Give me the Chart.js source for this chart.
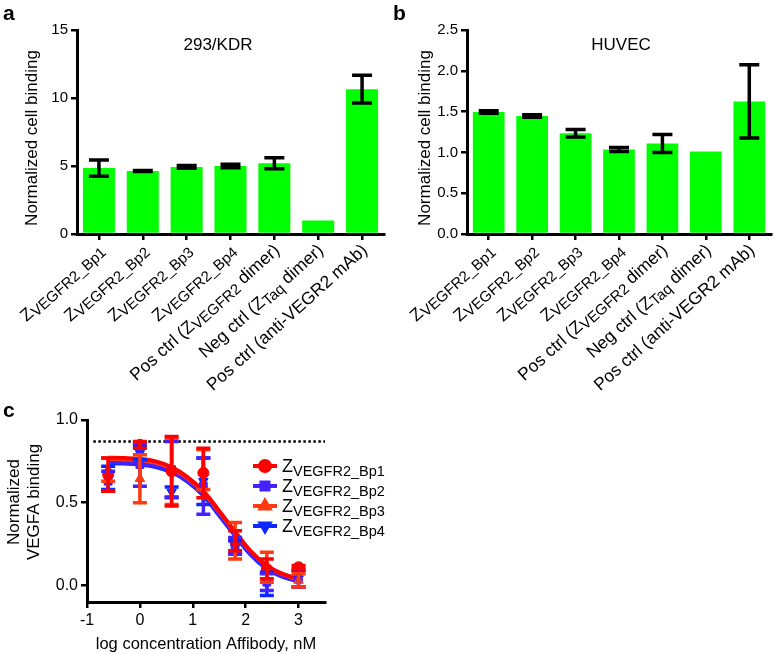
<!DOCTYPE html>
<html>
<head>
<meta charset="utf-8">
<script src="https://cdn.jsdelivr.net/npm/chart.js@4.4.1/dist/chart.umd.min.js"></script>
<style>
  body { margin: 0; background: #fff; }
  #wrap { position: relative; width: 777px; height: 654px; overflow: hidden; }
  canvas { position: absolute; }
</style>
</head>
<body>
<div id="wrap">
  <canvas id="chartA" width="390" height="400" style="left:0;top:0;width:390px;height:400px"></canvas>
  <canvas id="chartB" width="387" height="400" style="left:390px;top:0;width:387px;height:400px"></canvas>
  <canvas id="chartC" width="420" height="254" style="left:0;top:400px;width:420px;height:254px"></canvas>
</div>
<script>
// --- Data ---
// text inside [ ] is a subscript
const categories = [
  'Z[VEGFR2_Bp1]', 'Z[VEGFR2_Bp2]', 'Z[VEGFR2_Bp3]', 'Z[VEGFR2_Bp4]',
  'Pos ctrl (Z[VEGFR2] dimer)', 'Neg ctrl (Z[Taq] dimer)', 'Pos ctrl (anti-VEGR2 mAb)'
];
const kdrValues = [4.85, 4.63, 4.93, 5.0, 5.2, 1.0, 10.65];
const kdrErrors = [0.6, 0.03, 0.1, 0.12, 0.4, 0, 1.02];
const huvecValues = [1.495, 1.445, 1.235, 1.035, 1.11, 1.01, 1.625];
const huvecErrors = [0.015, 0.015, 0.045, 0.025, 0.11, 0, 0.45];
const kdrTicks = [0, 5, 10, 15];
const huvecTicks = [0, 0.5, 1.0, 1.5, 2.0, 2.5];

const logConc = [-0.6, 0, 0.6, 1.2, 1.8, 2.4, 3.0];
const bp1Mean = [0.67, 0.85, 0.69, 0.68, 0.27, 0.10, 0.11];
const bp1Err  = [0.10, 0.02, 0.21, 0.15, 0.06, 0.06, 0.01];
const bp2Mean = [0.63, 0.73, 0.70, 0.60, 0.24, 0.02, 0.04];
const bp2Err  = [0.06, 0.13, 0.17, 0.17, 0.05, 0.05, 0.05];
const bp3Mean = [0.70, 0.645, 0.69, 0.70, 0.27, 0.11, 0.03];
const bp3Err  = [0.07, 0.145, 0.20, 0.12, 0.11, 0.09, 0.04];
const bp4Mean = [0.65, 0.80, 0.565, 0.63, 0.23, 0.01, 0.04];
const bp4Err  = [0.07, 0.04, 0.03, 0.14, 0.04, 0.07, 0.05];

// fitted curves
const fitX = [-0.6, -0.3, 0, 0.3, 0.6, 0.9, 1.2, 1.5, 1.8, 2.1, 2.4, 2.7, 3.0];
const fit1 = [0.772, 0.770, 0.765, 0.750, 0.715, 0.655, 0.570, 0.450, 0.325, 0.205, 0.120, 0.070, 0.040];
const fit2 = [0.745, 0.742, 0.736, 0.720, 0.688, 0.632, 0.548, 0.428, 0.305, 0.188, 0.105, 0.055, 0.028];
const fit3 = [0.765, 0.762, 0.757, 0.742, 0.707, 0.648, 0.563, 0.445, 0.322, 0.205, 0.120, 0.068, 0.035];
const fit4 = [0.740, 0.737, 0.731, 0.716, 0.684, 0.628, 0.543, 0.423, 0.300, 0.183, 0.100, 0.052, 0.025];

const refX = [-0.88, 3.5];
const refLevel = [0.87, 0.87];
const concTicks = [-1, 0, 1, 2, 3];
const bindTicks = [0, 0.5, 1.0];

const seriesNames = ['Z[VEGFR2_Bp1]', 'Z[VEGFR2_Bp2]', 'Z[VEGFR2_Bp3]', 'Z[VEGFR2_Bp4]'];

// --- Styles ---
const FONT = '"Liberation Sans", Arial, sans-serif';
const GREEN = '#00ff00';
const seriesColors = ['#ff0000', '#4422ff', '#ff3a10', '#0a28ff'];
const seriesPoints = [
  { style: 'circle', rotation: 0 },
  { style: 'rect', rotation: 0 },
  { style: 'triangle', rotation: 0 },
  { style: 'triangle', rotation: 180 }
];

function parseRich(str) {
  const segs = [];
  str.split(/(\[[^\]]*\])/).forEach(p => {
    if (!p) return;
    if (p[0] === '[') segs.push({ t: p.slice(1, -1), sub: true });
    else segs.push({ t: p, sub: false });
  });
  return segs;
}

// draws text with subscripts; align 'left' or 'right' about x
function drawRich(ctx, str, x, y, size, subSize, subShift, align) {
  const segs = parseRich(str);
  let total = 0;
  segs.forEach(s => {
    ctx.font = (s.sub ? subSize : size) + 'px ' + FONT;
    s.w = ctx.measureText(s.t).width;
    total += s.w;
  });
  let cx = align === 'right' ? x - total : x;
  ctx.textAlign = 'left';
  segs.forEach(s => {
    ctx.font = (s.sub ? subSize : size) + 'px ' + FONT;
    ctx.fillText(s.t, cx, s.sub ? y + subShift : y);
    cx += s.w;
  });
}

// --- Plugins ---
const errorBars = {
  id: 'errorBars',
  afterDatasetsDraw(chart, args, opts) {
    const ctx = chart.ctx;
    const ys = chart.scales.y;
    chart.data.datasets.forEach((ds, di) => {
      if (!ds.errors) return;
      const meta = chart.getDatasetMeta(di);
      ctx.save();
      ctx.strokeStyle = ds.errorColor || '#000';
      ctx.lineWidth = opts.lineWidth || 3;
      meta.data.forEach((el, i) => {
        const e = ds.errors[i];
        if (!e) return;
        const raw = ds.data[i];
        const v = typeof raw === 'object' ? raw.y : raw;
        const hi = ys.getPixelForValue(v + e);
        const lo = ys.getPixelForValue(v - e);
        const cap = opts.cap || 10;
        ctx.beginPath();
        ctx.moveTo(el.x, hi); ctx.lineTo(el.x, lo);
        ctx.moveTo(el.x - cap, hi); ctx.lineTo(el.x + cap, hi);
        ctx.moveTo(el.x - cap, lo); ctx.lineTo(el.x + cap, lo);
        ctx.stroke();
      });
      ctx.restore();
    });
  }
};

const slantedLabels = {
  id: 'slantedLabels',
  afterDraw(chart) {
    const ctx = chart.ctx;
    const xs = chart.scales.x;
    ctx.save();
    ctx.fillStyle = '#000';
    ctx.textBaseline = 'middle';
    chart.data.labels.forEach((lab, i) => {
      const x = xs.getPixelForTick(i);
      ctx.save();
      ctx.translate(x + 3, xs.top + 14);
      ctx.rotate(-42 * Math.PI / 180);
      drawRich(ctx, lab, 0, 0, 17.5, 15, 3.5, 'right');
      ctx.restore();
    });
    ctx.restore();
  }
};

const panelText = {
  id: 'panelText',
  afterDraw(chart, args, opts) {
    const ctx = chart.ctx;
    (opts.items || []).forEach(it => {
      ctx.save();
      ctx.fillStyle = '#000';
      ctx.font = (it.bold ? 'bold ' : '') + it.size + 'px ' + FONT;
      ctx.textAlign = it.align || 'center';
      ctx.textBaseline = it.baseline || 'alphabetic';
      ctx.translate(it.x, it.y);
      if (it.rotate) ctx.rotate(it.rotate);
      ctx.fillText(it.text, 0, 0);
      ctx.restore();
    });
  }
};

const curveLegend = {
  id: 'curveLegend',
  afterDraw(chart) {
    const ctx = chart.ctx;
    seriesNames.forEach((name, i) => {
      const y = 66 + i * 20;
      ctx.save();
      ctx.strokeStyle = seriesColors[i];
      ctx.fillStyle = seriesColors[i];
      ctx.lineWidth = 4;
      ctx.beginPath();
      ctx.moveTo(253, y); ctx.lineTo(277, y);
      ctx.stroke();
      Chart.helpers.drawPoint(ctx, {
        pointStyle: seriesPoints[i].style, radius: 5,
        rotation: seriesPoints[i].rotation, borderWidth: 1
      }, 265, y);
      ctx.fillStyle = '#000';
      ctx.textBaseline = 'alphabetic';
      drawRich(ctx, name, 282, y + 6, 18, 14.5, 4, 'left');
      ctx.restore();
    });
  }
};

// --- Shared axis helpers ---
function axisGrid(extra) {
  return Object.assign({ drawOnChartArea: false, color: '#000', lineWidth: 2.5, tickLength: 6 }, extra || {});
}
const axisBorder = { color: '#000', width: 3 };

function barChart(id, values, errors, yMax, yTicks, title, titleX, letter, yTitleX, decimals) {
  new Chart(document.getElementById(id), {
    type: 'bar',
    data: {
      labels: categories,
      datasets: [{
        data: values,
        errors: errors,
        backgroundColor: GREEN,
        barPercentage: 0.73,
        categoryPercentage: 1
      }]
    },
    options: {
      responsive: false,
      animation: false,
      layout: { padding: { left: 0, top: 30, right: 6, bottom: 0 } },
      scales: {
        x: {
          grid: axisGrid({ offset: false }),
          border: axisBorder,
          ticks: { display: false },
          afterFit: s => { s.height = 166; }
        },
        y: {
          min: 0, max: yMax,
          afterBuildTicks: s => { s.ticks = yTicks.map(v => ({ value: v })); },
          ticks: {
            color: '#000', padding: 3,
            font: { size: 15, family: FONT },
            callback: v => v.toFixed(decimals)
          },
          grid: axisGrid(),
          border: axisBorder,
          afterFit: s => { s.width = 77; }
        }
      },
      plugins: {
        legend: { display: false },
        tooltip: { enabled: false },
        errorBars: { lineWidth: 3.5, cap: 10 },
        panelText: {
          items: [
            { text: letter, x: 3, y: 20, size: 21, bold: true, align: 'left' },
            { text: title, x: titleX, y: 50, size: 17 },
            { text: 'Normalized cell binding', x: yTitleX, y: 138, size: 17, rotate: -Math.PI / 2, baseline: 'middle' }
          ]
        }
      }
    },
    plugins: [errorBars, slantedLabels, panelText]
  });
}

barChart('chartA', kdrValues, kdrErrors, 15, kdrTicks, '293/KDR', 218, 'a', 32, 0);
barChart('chartB', huvecValues, huvecErrors, 2.5, huvecTicks, 'HUVEC', 231, 'b', 35, 1);

// --- Panel c ---
const means = [bp1Mean, bp2Mean, bp3Mean, bp4Mean];
const errs = [bp1Err, bp2Err, bp3Err, bp4Err];
const fits = [fit1, fit2, fit3, fit4];
const drawOrder = [3, 1, 2, 0]; // red on top

const cDatasets = [];
drawOrder.forEach((k, n) => {
  cDatasets.push({
    type: 'line',
    data: fitX.map((x, i) => ({ x: x, y: fits[k][i] })),
    borderColor: seriesColors[k],
    borderWidth: 4,
    pointRadius: 0,
    tension: 0.4,
    fill: false,
    order: 20 - n
  });
  cDatasets.push({
    type: 'scatter',
    data: logConc.map((x, i) => ({ x: x, y: means[k][i] })),
    errors: errs[k],
    errorColor: seriesColors[k],
    backgroundColor: seriesColors[k],
    borderColor: seriesColors[k],
    pointStyle: seriesPoints[k].style,
    rotation: seriesPoints[k].rotation,
    pointRadius: 5.5,
    order: 10 - n
  });
});
cDatasets.push({
  type: 'line',
  data: refX.map((x, i) => ({ x: x, y: refLevel[i] })),
  borderColor: '#000',
  borderWidth: 2.5,
  borderDash: [2.5, 2.5],
  pointRadius: 0,
  order: 30
});

new Chart(document.getElementById('chartC'), {
  type: 'scatter',
  data: { datasets: cDatasets },
  options: {
    responsive: false,
    animation: false,
    layout: { padding: { left: 0, top: 20, right: 95, bottom: 0 } },
    scales: {
      x: {
        type: 'linear', min: -1, max: 3.5,
        afterBuildTicks: s => { s.ticks = concTicks.map(v => ({ value: v })); },
        ticks: { color: '#000', padding: 3, font: { size: 16, family: FONT } },
        grid: axisGrid(),
        border: axisBorder,
        afterFit: s => { s.height = 52; }
      },
      y: {
        min: -0.1, max: 1.0,
        afterBuildTicks: s => { s.ticks = bindTicks.map(v => ({ value: v })); },
        ticks: {
          color: '#000', padding: 3, font: { size: 16, family: FONT },
          callback: v => v.toFixed(1)
        },
        grid: axisGrid(),
        border: axisBorder,
        afterFit: s => { s.width = 87; }
      }
    },
    plugins: {
      legend: { display: false },
      tooltip: { enabled: false },
      errorBars: { lineWidth: 3.5, cap: 7 },
      panelText: {
        items: [
          { text: 'c', x: 3, y: 17, size: 21, bold: true, align: 'left' },
          { text: 'Normalized', x: 14, y: 102, size: 17, rotate: -Math.PI / 2, baseline: 'middle' },
          { text: 'VEGFA binding', x: 34, y: 102, size: 17, rotate: -Math.PI / 2, baseline: 'middle' },
          { text: 'log concentration Affibody, nM', x: 206, y: 244, size: 16.5, baseline: 'middle' }
        ]
      }
    }
  },
  plugins: [errorBars, panelText, curveLegend]
});
</script>
</body>
</html>
